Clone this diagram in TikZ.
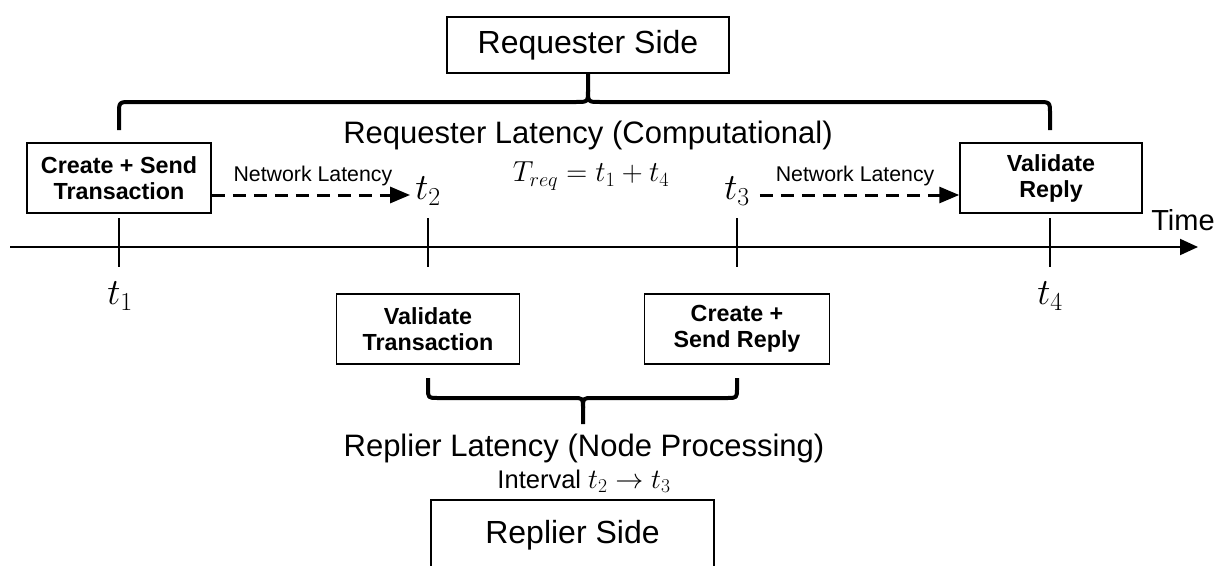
\RequirePackage{fix-cm}
\documentclass[tikz,border=0pt]{standalone}
\usepackage{fontspec}
\setmainfont{Liberation Sans}
\usetikzlibrary{arrows.meta,calc}

\tikzset{
  box/.style={draw, line width=1.5pt, align=center, inner sep=0pt},
  stepbox/.style={box, minimum width=184pt, minimum height=70pt,
    font=\fontsize{23.3}{26}\selectfont\bfseries},
  sidebox/.style={box, minimum width=282pt, font=\fontsize{32}{36}\selectfont},
  biglbl/.style={font=\fontsize{31}{34}\selectfont, inner sep=0pt},
  netlbl/.style={font=\fontsize{21.3}{23}\selectfont, inner sep=0pt},
  tlbl/.style={font=\fontsize{37}{40}\selectfont, inner sep=1pt},
  tickline/.style={line width=2pt},
  brace/.style={line width=4pt, line join=round},
  net/.style={line width=3pt, dash pattern=on 13pt off 8pt,
    -{Triangle[length=20pt,width=16pt]}},
  axis/.style={line width=2pt, -{Triangle[length=18pt,width=16pt]}}
}

\begin{document}
\begin{tikzpicture}[x=1pt,y=-1pt]
\useasboundingbox (0,0) rectangle (1225,565);
\clip (0,0) rectangle (1225,565);

% boxes on the requester side
\node[sidebox, minimum height=56pt] (req) at (588,45) {Requester Side};
\node[stepbox] (cst) at (119,178) {Create + Send\\Transaction};
\node[stepbox, minimum width=182pt] (vr) at (1051,178) {Validate\\Reply};

% boxes on the replier side
\node[stepbox, minimum width=183pt] (vt) at (428,329) {Validate\\Transaction};
\node[stepbox, minimum width=185pt] (csr) at (737,329) {Create +\\Send Reply};
\node[sidebox, minimum width=283pt, minimum height=70pt] (rs) at (572.5,535) {Replier Side};

% time axis with ticks
\coordinate (a0) at (10,247);
\coordinate (a1) at (1198,247);
\draw[axis] (a0) -- (a1);
\node[font=\fontsize{29}{32}\selectfont, inner sep=0pt] (time) at (1183,220) {Time};
\foreach \n/\x in {k1/119,k2/428,k3/737,k4/1050}{
  \coordinate (\n) at (\x,247);
  \draw[tickline] ($(\n)+(0,-29)$) -- ($(\n)+(0,20)$);
}

% instants
\node[tlbl] (t1) at (120,296) {$t_1$};
\node[tlbl] (t2) at (428,191) {$t_2$};
\node[tlbl] (t3) at (737,191) {$t_3$};
\node[tlbl] (t4) at (1050,296) {$t_4$};

% network latency arrows
\draw[net, shorten >=4pt] (cst.east |- 0,195) -- node[netlbl, above=8pt] (nl1) {Network Latency} (t2.west |- 0,195);
\draw[net, shorten <=9pt] (t3.east |- 0,195) -- node[netlbl, above=8pt] (nl2) {Network Latency} (vr.west |- 0,195);

% requester latency brace
\coordinate (bl) at (119,130);
\coordinate (br) at (1050,130);
\draw[brace] (bl) -- (119,114) .. controls (119,102) .. (131,102) -- (576,102)
  .. controls (588,102) .. (588,90) -- (req.south);
\draw[brace] (br) -- (1050,114) .. controls (1050,102) .. (1038,102) -- (600,102)
  .. controls (588,102) .. (588,90);
\node[biglbl] (rql) at (588,135) {Requester Latency (Computational)};
\node[font=\fontsize{29}{31}\selectfont, inner sep=0pt] (treq) at (591,176) {$T_{req} = t_1 + t_4$};

% replier latency brace
\coordinate (cl) at (428,378);
\coordinate (cr) at (737,378);
\coordinate (ctip) at (583,424);
\draw[brace] (cl) -- (428,388) .. controls (428,398) .. (438,398) -- (573,398)
  .. controls (583,398) .. (583,408) -- (ctip);
\draw[brace] (cr) -- (737,388) .. controls (737,398) .. (727,398) -- (593,398)
  .. controls (583,398) .. (583,408);
\node[biglbl] (rpl) at (584,448) {Replier Latency (Node Processing)};
\node[font=\fontsize{25.5}{27}\selectfont, inner sep=0pt] (intv) at (584,481)
  {Interval {\fontsize{28}{30}\selectfont$t_2 \to t_3$}};
\end{tikzpicture}
\end{document}
